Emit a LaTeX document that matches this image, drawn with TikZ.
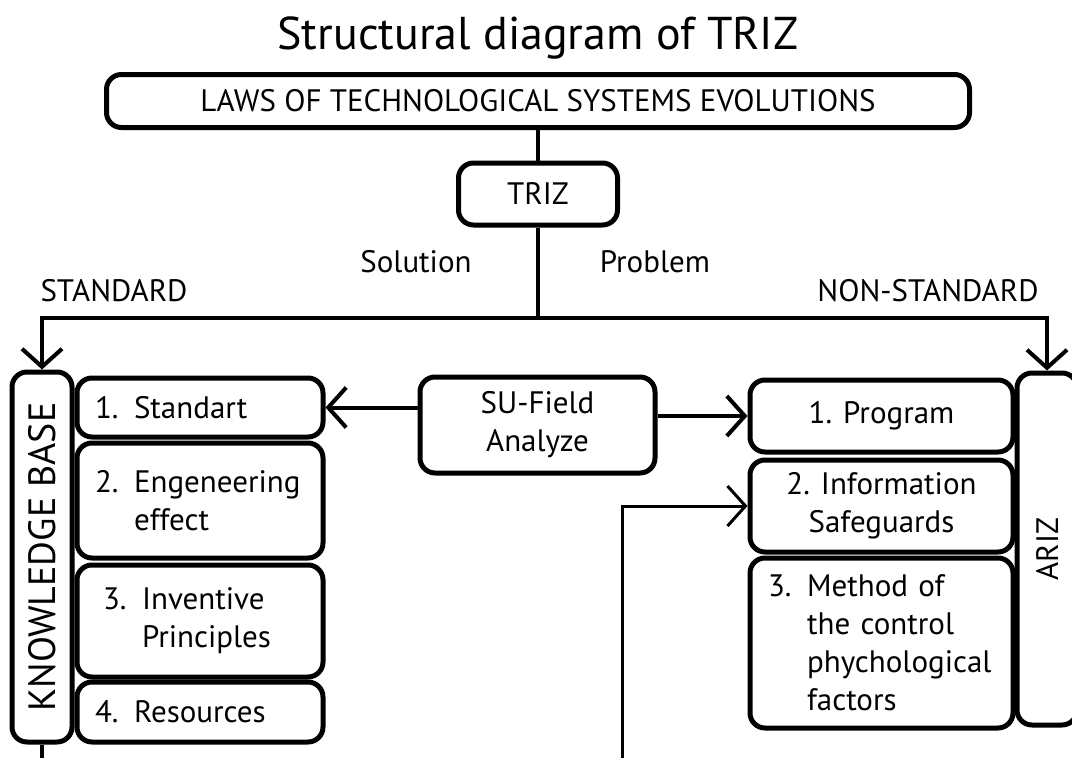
\documentclass[tikz,border=0pt]{standalone}
\usepackage{fontspec}
\setmainfont{PT Sans}
\usetikzlibrary{arrows.meta}

\tikzstyle{block}=[draw, line width=5pt, rounded corners=15pt, align=center, inner sep=0pt, font=\fontsize{31}{38}\selectfont]
\tikzstyle{txt}=[inner sep=0pt, font=\fontsize{31}{38}\selectfont]
\tikzstyle{sidetxt}=[inner sep=0pt, rotate=90, font=\fontsize{38}{40}\selectfont]
\tikzstyle{edge}=[draw, line width=4pt]
\tikzstyle{arrow}=[edge, -{Straight Barb[length=18pt,width=40pt]}]
\tikzstyle{thinarrow}=[arrow, line width=3pt]

\begin{document}
\begin{tikzpicture}[x=1pt,y=-1pt]
\useasboundingbox (0,0) rectangle (1072,758);

\node[txt, font=\fontsize{46}{50}\selectfont] (title) at (538,38) {Structural diagram of TRIZ};

\node[block, minimum width=863pt, minimum height=53pt] (laws) at (538,101) {LAWS OF TECHNOLOGICAL SYSTEMS EVOLUTIONS};
\node[block, minimum width=159pt, minimum height=62pt] (triz) at (538,194) {TRIZ};
\coordinate (split) at (538,318);
\draw[edge] (laws) to (triz);
\draw[edge] (triz) to (split);

\node[txt] (solution) at (416,262) {Solution};
\node[txt] (problem) at (655,262) {Problem};
\node[txt] (standard) at (114,291) {STANDARD};
\node[txt] (nonstandard) at (928,291) {NON-STANDARD};

% knowledge base side
\node[block, minimum width=60pt, minimum height=370pt] (kb) at (42,557) {};
\node[sidetxt] (kbtext) at (kb) {KNOWLEDGE BASE};
\node[block, align=left, text width=210pt, minimum width=246pt, minimum height=59pt] (s1) at (200,407.5) {1. Standart};
\node[block, align=left, text width=210pt, minimum width=246pt, minimum height=115pt] (s2) at (200,500.5) {2. Engeneering\\\phantom{2. }effect};
\node[block, align=left, text width=210pt, minimum width=246pt, minimum height=112pt] (s3) at (200,621) {\hspace{8pt}3. Inventive\\\hspace{8pt}\phantom{3. }Principles};
\node[block, align=left, text width=210pt, minimum width=246pt, minimum height=60pt] (s4) at (200,712) {4. Resources};
\coordinate (kbend) at (42,758);
\draw[edge] (kb) to (kbend);

% ariz side
\node[block, minimum width=60pt, minimum height=352pt] (ariz) at (1047,549) {};
\node[sidetxt, font=\fontsize{31}{38}\selectfont] (ariztext) at (ariz) {ARIZ};
\node[block, minimum width=263pt, minimum height=72pt] (r1) at (881.5,416) {1. Program};
\node[block, minimum width=263pt, minimum height=92pt] (r2) at (881.5,506) {2. Information\\Safeguards};
\node[block, align=left, text width=227pt, minimum width=263pt, minimum height=170pt] (r3) at (881.5,643) {3. Method of\\\phantom{3. }the control\\\phantom{3. }phychological\\\phantom{3. }factors};

\draw[arrow] (split) -| (kb.north);
\draw[arrow] (split) -| (ariz.north);

\node[block, minimum width=235pt, minimum height=96pt] (su) at (537.5,425) {SU-Field\\Analyze};
\draw[arrow] (su.west |- s1) to (s1.east);
\draw[arrow] (su.east |- r1) to (r1.west);

\coordinate (feed) at (622,758);
\draw[thinarrow] (feed) |- (r2.west);
\end{tikzpicture}
\end{document}
